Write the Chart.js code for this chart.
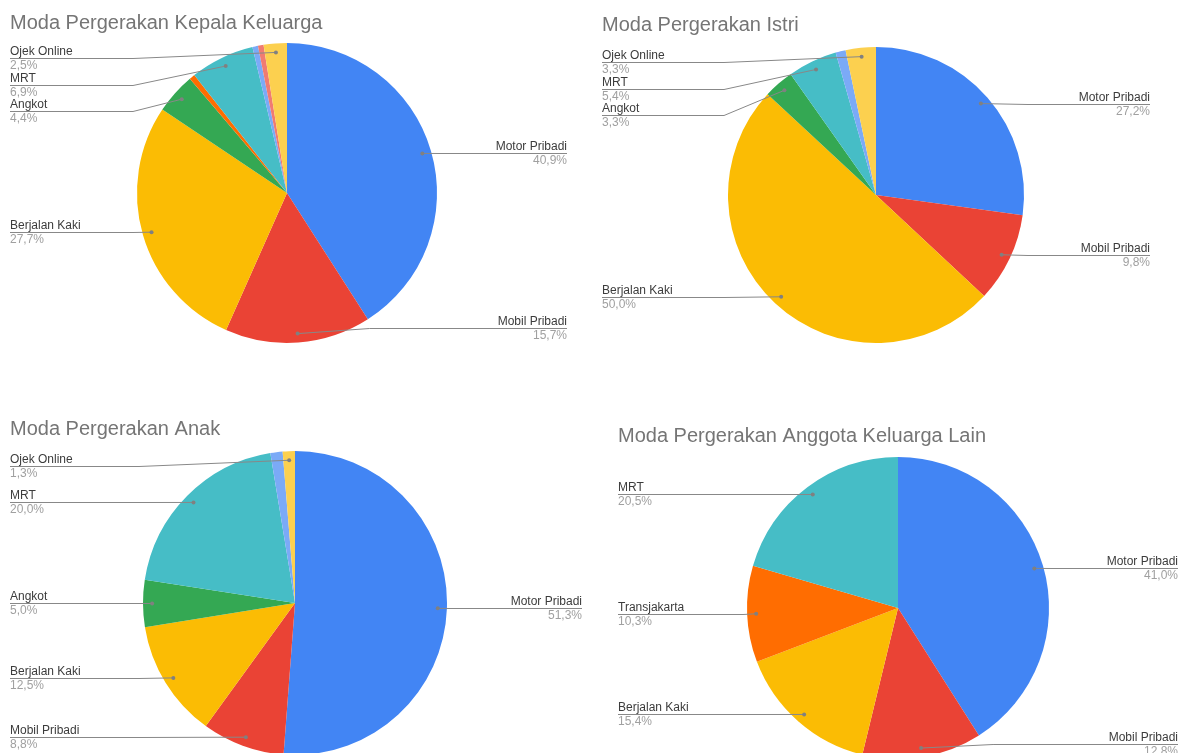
<!DOCTYPE html>
<html>
<head>
<meta charset="utf-8">
<script src="https://cdn.jsdelivr.net/npm/chart.js@4.4.1/dist/chart.umd.min.js"></script>
<style>
  html, body { margin: 0; padding: 0; background: #fff; width: 1179px; height: 753px; overflow: hidden; }
  canvas { position: absolute; }
</style>
</head>
<body>
<canvas id="c1" width="590" height="376" style="left:0px;top:0px;"></canvas>
<canvas id="c2" width="589" height="376" style="left:590px;top:0px;"></canvas>
<canvas id="c3" width="590" height="420" style="left:0px;top:376px;"></canvas>
<canvas id="c4" width="589" height="420" style="left:590px;top:376px;"></canvas>
<script>
// ---- data ----
const categories = ['Motor Pribadi', 'Mobil Pribadi', 'Berjalan Kaki', 'Angkot', 'Transjakarta', 'MRT', 'KRL', 'Ojek Pangkalan', 'Ojek Online'];
const kepalaKeluarga = [40.9, 15.7, 27.7, 4.4, 0.6, 6.9, 0.6, 0.6, 2.5];
const istri          = [27.2, 9.8, 50.0, 3.3, 0, 5.4, 1.1, 0, 3.3];
const anak           = [51.3, 8.8, 12.5, 5.0, 0, 20.0, 1.3, 0, 1.3];
const anggotaLain    = [41.0, 12.8, 15.4, 0, 10.3, 20.5, 0, 0, 0];
const titles = ['Moda Pergerakan Kepala Keluarga', 'Moda Pergerakan Istri', 'Moda Pergerakan Anak', 'Moda Pergerakan Anggota Keluarga Lain'];
const hiddenLabels = ['KRL', 'Ojek Pangkalan'];

const colors = ['#4285F4', '#EA4335', '#FBBC04', '#34A853', '#FF6D01', '#46BDC6', '#7BAAF7', '#F07B72', '#FCD04F'];
const FONT = '"Liberation Sans", Arial, sans-serif';

function fmt(v) { return v.toFixed(1).replace('.', ',') + '%'; }

const leaderLabels = {
  id: 'leaderLabels',
  afterDraw(chart, args, opts) {
    const ctx = chart.ctx;
    // title
    ctx.save();
    ctx.font = '20px ' + FONT;
    ctx.fillStyle = '#757575';
    ctx.textAlign = 'left';
    ctx.textBaseline = 'alphabetic';
    ctx.fillText(opts.title, opts.titleX, opts.titleY);

    const meta = chart.getDatasetMeta(0);
    const values = chart.data.datasets[0].data;
    const labels = chart.data.labels;
    let cx = 0, cy = 0, r = 0;
    const items = [];
    meta.data.forEach((arc, i) => {
      const p = arc.getProps(['x', 'y', 'startAngle', 'endAngle', 'outerRadius'], true);
      cx = p.x; cy = p.y; r = p.outerRadius;
      const v = values[i];
      if (v < 1 || hiddenLabels.includes(labels[i])) return;
      const mid = (p.startAngle + p.endAngle) / 2;
      const dx = p.x + 0.94 * r * Math.cos(mid);
      const dy = p.y + 0.94 * r * Math.sin(mid);
      items.push({ name: labels[i], v, dx, dy, ly: dy, side: dx >= p.x ? 'right' : 'left' });
    });
    const minY = cy - r + 15, maxY = cy + r - 15, gap = 26.5;
    ['left', 'right'].forEach(side => {
      const list = items.filter(it => it.side === side).sort((a, b) => a.dy - b.dy);
      for (let k = 0; k < list.length; k++) {
        let y = Math.max(list[k].dy, minY);
        if (k > 0) y = Math.max(y, list[k - 1].ly + gap);
        list[k].ly = y;
      }
      for (let k = list.length - 1; k >= 0; k--) {
        let y = Math.min(list[k].ly, maxY);
        if (k < list.length - 1) y = Math.min(y, list[k + 1].ly - gap);
        list[k].ly = y;
      }
    });
    items.forEach(it => {
      const ly = Math.round(it.ly) + 0.5;
      const left = it.side === 'left';
      const tx = left ? opts.leftX : opts.rightX;
      let bend = left ? cx - r - 4 : cx + r + 4;
      if (!left && it.dy > cy + 0.8 * r) bend = it.dx + 72;
      ctx.strokeStyle = '#888888';
      ctx.lineWidth = 1;
      ctx.beginPath();
      ctx.moveTo(tx, ly);
      if (left ? bend > tx && bend < it.dx : bend < tx && bend > it.dx) ctx.lineTo(bend, ly);
      ctx.lineTo(it.dx, it.dy);
      ctx.stroke();
      ctx.fillStyle = '#808080';
      ctx.beginPath();
      ctx.arc(it.dx, it.dy, 2, 0, Math.PI * 2);
      ctx.fill();
      ctx.textAlign = left ? 'left' : 'right';
      ctx.font = '12px ' + FONT;
      ctx.fillStyle = '#3c3c3c';
      ctx.fillText(it.name, tx, ly - 4);
      ctx.fillStyle = '#a0a0a0';
      ctx.fillText(fmt(it.v), tx, ly + 10);
    });
    ctx.restore();
  }
};

function makePie(id, values, title, pad, lab) {
  return new Chart(document.getElementById(id), {
    type: 'pie',
    data: {
      labels: categories,
      datasets: [{ data: values, backgroundColor: colors, borderWidth: 0 }]
    },
    options: {
      responsive: false,
      animation: false,
      devicePixelRatio: 1,
      layout: { padding: pad },
      plugins: {
        legend: { display: false },
        tooltip: { enabled: false },
        title: { display: false },
        leaderLabels: Object.assign({ title }, lab)
      }
    },
    plugins: [leaderLabels]
  });
}

makePie('c1', kepalaKeluarga, titles[0],
  { left: 137, right: 153, top: 43, bottom: 33 },
  { titleX: 10, titleY: 29, leftX: 10, rightX: 567 });
makePie('c2', istri, titles[1],
  { left: 138, right: 155, top: 47, bottom: 33 },
  { titleX: 12, titleY: 31, leftX: 12, rightX: 560 });
makePie('c3', anak, titles[2],
  { left: 143, right: 143, top: 75, bottom: 41 },
  { titleX: 10, titleY: 59, leftX: 10, rightX: 582 });
makePie('c4', anggotaLain, titles[3],
  { left: 157, right: 130, top: 81, bottom: 37 },
  { titleX: 28, titleY: 66, leftX: 28, rightX: 588 });
</script>
</body>
</html>
